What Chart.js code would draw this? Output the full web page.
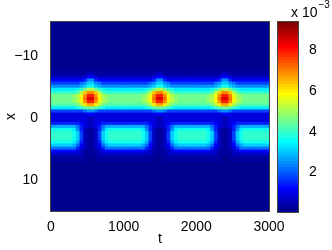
<!DOCTYPE html>
<html>
<head>
<meta charset="utf-8">
<script src="https://cdn.jsdelivr.net/npm/chart.js@4.4.0/dist/chart.umd.min.js"></script>
<style>
  html, body { margin: 0; padding: 0; background: #fff; }
  #wrap { position: relative; width: 332px; height: 250px; }
  #main { position: absolute; left: 0; top: 0; }
  #cbar { position: absolute; left: 270px; top: 0; }
</style>
</head>
<body>
<div id="wrap">
  <canvas id="main" width="332" height="250"></canvas>
  <canvas id="cbar" width="62" height="250"></canvas>
</div>
<script>
// grid of the field: t columns of 50, x rows of 0.5 (top row = -15.5)
const tRange = [0, 3000];
const xRange = [-15.5, 15];
const tTicks = [0, 1000, 2000, 3000];
const xTicks = [-10, 0, 10];
const cbarTicks = [2, 4, 6, 8];
const cRange = [0.05, 9.4];          // colour limits, x 10^-3

// one string per x row, one char per t column (groups of 10 = 500 in t)
// char is base 36, value = char * 0.3  (x 10^-3)
const heatRows = [
  '0000000000 0000000000 0000000000 0000000000 0000000000 0000000000',
  '0000000000 0000000000 0000000000 0000000000 0000000000 0000000000',
  '0000000000 0000000000 0000000000 0000000000 0000000000 0000000000',
  '0000000000 0000000000 0000000000 0000000000 0000000000 0000000000',
  '0000000000 0000000000 0000000000 0000000000 0000000000 0000000000',
  '0000000000 0000000000 0000000000 0000000000 0000000000 0000000000',
  '0000000000 0000000000 0000000000 0000000000 0000000000 0000000000',
  '0000000000 0000000000 0000000000 0000000000 0000000000 0000000000',
  '0000000000 0000000000 0000000000 0000000000 0000000000 0000000000',
  '0000000000 0000000000 0000000000 0000000000 0000000000 0000000000',
  '0000000000 0000000000 0000000000 0000000000 0000000000 0000000000',
  '0000000000 0000000000 0000000000 0000000000 0000000000 0000000000',
  '0000000000 0000000000 0000000000 0000000000 0000000000 0000000000',
  '0000000000 0000000000 0000000000 0000000000 0000000000 0000000000',
  '0000000000 0000000000 0000000000 0000000000 0000000000 0000000000',
  '1111111111 1111111111 1111111111 1111111111 1111111111 1111111111',
  '1111111111 2211111111 1111111112 2111111111 1111111221 1111111111',
  '2222222223 4432222222 2222222234 4322222222 2222223443 2222222222',
  '4444444445 8854444444 4444444458 8544444444 4444445885 4444444444',
  '6666666678 aa87666666 666666678a a876666666 6666678aa8 7666666666',
  '888888889a cca9888888 88888889ac ca98888888 888889acca 9888888888',
  'bbbbbbbcdf hhfdcbbbbb bbbbbbcdfh hfdcbbbbbb bbbbcdfhhf dcbbbbbbbb',
  'dddddddehl nnlheddddd ddddddehln nlhedddddd ddddehlnnl hedddddddd',
  'ffffffghjn qqnjhgffff fffffghjnq qnjhgfffff fffghjnqqn jhgfffffff',
  'ffffffghko ssokhgffff fffffghkos sokhgfffff fffghkosso khgfffffff',
  'ffffffghjn qqnjhgffff fffffghjnq qnjhgfffff fffghjnqqn jhgfffffff',
  'eeeeeeefhk mmkhfeeeee eeeeeefhkm mkhfeeeeee eeeefhkmmk hfeeeeeeee',
  'bbbbbbbcde ffedcbbbbb bbbbbbcdef fedcbbbbbb bbbbcdeffe dcbbbbbbbb',
  '6666666667 8876666666 6666666678 8766666666 6666667887 6666666666',
  '3333333333 4433333333 3333333334 4333333333 3333333443 3333333333',
  '3333333333 2233333333 3333333332 2333333333 3333333223 3333333333',
  '3333333333 2233333333 3333333332 2333333333 3333333223 3333333333',
  '5555555543 2234555555 5555555432 2345555555 5555543223 4555555555',
  '9999999753 2235799999 9999997532 2357999999 9999753223 5799999999',
  'ccccccb852 11258bcccc cccccb8521 1258bccccc cccb852112 58bccccccc',
  'ddddddca62 1126acdddd dddddca621 126acddddd dddca62112 6acddddddd',
  'ddddddca62 1126acdddd dddddca621 126acddddd dddca62112 6acddddddd',
  'ddddddca62 1126acdddd dddddca621 126acddddd dddca62112 6acddddddd',
  'ccccccb952 11259bcccc cccccb9521 1259bccccc cccb952112 59bccccccc',
  'aaaaaa9742 112479aaaa aaaaa97421 12479aaaaa aaa9742112 479aaaaaaa',
  '7777777532 1123577777 7777775321 1235777777 7777532112 3577777777',
  '4444444321 1112344444 4444443211 1123444444 4444321111 2344444444',
  '2222222221 1112222222 2222222211 1122222222 2222221111 2222222222',
  '1111111111 0011111111 1111111110 0111111111 1111111001 1111111111',
  '1111111111 0011111111 1111111110 0111111111 1111111001 1111111111',
  '0000000000 0000000000 0000000000 0000000000 0000000000 0000000000',
  '0000000000 0000000000 0000000000 0000000000 0000000000 0000000000',
  '0000000000 0000000000 0000000000 0000000000 0000000000 0000000000',
  '0000000000 0000000000 0000000000 0000000000 0000000000 0000000000',
  '0000000000 0000000000 0000000000 0000000000 0000000000 0000000000',
  '0000000000 0000000000 0000000000 0000000000 0000000000 0000000000',
  '0000000000 0000000000 0000000000 0000000000 0000000000 0000000000',
  '0000000000 0000000000 0000000000 0000000000 0000000000 0000000000',
  '0000000000 0000000000 0000000000 0000000000 0000000000 0000000000',
  '0000000000 0000000000 0000000000 0000000000 0000000000 0000000000',
  '0000000000 0000000000 0000000000 0000000000 0000000000 0000000000',
  '0000000000 0000000000 0000000000 0000000000 0000000000 0000000000',
  '0000000000 0000000000 0000000000 0000000000 0000000000 0000000000',
  '0000000000 0000000000 0000000000 0000000000 0000000000 0000000000',
  '0000000000 0000000000 0000000000 0000000000 0000000000 0000000000',
  '0000000000 0000000000 0000000000 0000000000 0000000000 0000000000'
];

Chart.defaults.font.family = '"Liberation Sans", Arial, sans-serif';
Chart.defaults.font.size = 14;
Chart.defaults.color = '#000';

// MATLAB jet(64)
function jetColor(k) {
  const u = j => (j < 1 || j > 47) ? 0 : j <= 16 ? j / 16 : j <= 31 ? 1 : (48 - j) / 16;
  const K = k + 1;
  const r = Math.round(255 * u(K - 24));
  const g = Math.round(255 * u(K - 8));
  const b = Math.round(255 * u(K + 8));
  return 'rgb(' + r + ',' + g + ',' + b + ')';
}

function levelOf(v) {
  const k = Math.floor((v - cRange[0]) / (cRange[1] - cRange[0]) * 64);
  return Math.max(0, Math.min(63, k));
}

function minusLabel(v) {
  return v < 0 ? '\u2212' + Math.abs(v) : String(v);
}

const rows = heatRows.map(r => r.replace(/ /g, ''));
const nCols = rows[0].length;
rows.forEach((r, i) => { if (r.length !== nCols) throw new Error('row ' + i + ' has ' + r.length); });
const rowStep = (xRange[1] - xRange[0]) / rows.length;
const colStep = (tRange[1] - tRange[0]) / nCols;
const colLabels = [];
for (let j = 0; j < nCols; j++) colLabels.push(tRange[0] + (j + 0.5) * colStep);

const heatDatasets = rows.map((r, i) => {
  const lo = xRange[0] + i * rowStep;
  const vals = r.split('').map(ch => parseInt(ch, 36) * 0.3);
  return {
    data: vals.map(() => [lo, lo + rowStep]),
    backgroundColor: vals.map(v => jetColor(levelOf(v)))
  };
});

const framePlugin = {
  id: 'frame',
  afterDatasetsDraw(chart) {
    const a = chart.chartArea, ctx = chart.ctx;
    ctx.save();
    ctx.strokeStyle = '#444';
    ctx.lineWidth = 1;
    ctx.strokeRect(Math.round(a.left) - 0.5, Math.round(a.top) - 0.5,
      Math.round(a.right - a.left) + 1, Math.round(a.bottom - a.top) + 1);
    ctx.restore();
  }
};

const barOpts = {
  grouped: false,
  barPercentage: 1,
  categoryPercentage: 1,
  borderWidth: 0,
  inflateAmount: 0.6,
  clip: 0
};

new Chart(document.getElementById('main'), {
  type: 'bar',
  data: { labels: colLabels, datasets: heatDatasets },
  options: {
    responsive: false,
    animation: false,
    devicePixelRatio: 1,
    layout: { padding: { left: 0, right: 63, top: 22, bottom: 0 } },
    datasets: { bar: barOpts },
    plugins: { legend: { display: false }, tooltip: { enabled: false } },
    scales: {
      x: { display: false },
      t: {
        type: 'linear',
        position: 'bottom',
        offset: false,
        min: tRange[0],
        max: tRange[1],
        grid: { display: false, offset: false },
        border: { display: false },
        ticks: { padding: 0, maxRotation: 0, callback: v => String(v) },
        afterBuildTicks: axis => { axis.ticks = tTicks.map(v => ({ value: v })); },
        title: { display: true, text: 't', padding: { top: 0, bottom: 2 } },
        afterFit: axis => { axis.height = 39; }
      },
      y: {
        min: xRange[0],
        max: xRange[1],
        reverse: true,
        grid: { display: false },
        border: { display: false },
        ticks: { padding: 5, callback: v => minusLabel(v) },
        afterBuildTicks: axis => { axis.ticks = xTicks.map(v => ({ value: v })); },
        title: { display: true, text: 'x', padding: { top: 3, bottom: 0 } },
        afterFit: axis => { axis.width = 51; }
      }
    }
  },
  plugins: [framePlugin]
});

// colour bar
const cbarDatasets = [];
for (let k = 0; k < 64; k++) {
  const lo = cRange[0] + k * (cRange[1] - cRange[0]) / 64;
  const hi = cRange[0] + (k + 1) * (cRange[1] - cRange[0]) / 64;
  cbarDatasets.push({ data: [[lo, hi]], backgroundColor: jetColor(k) });
}

const exponentPlugin = {
  id: 'exponent',
  afterDraw(chart) {
    const ctx = chart.ctx;
    ctx.save();
    ctx.fillStyle = '#000';
    ctx.textBaseline = 'middle';
    ctx.textAlign = 'left';
    ctx.font = '14px "Liberation Sans", Arial, sans-serif';
    ctx.fillText('x 10', 21, 13);
    const w = ctx.measureText('x 10').width;
    ctx.font = '10px "Liberation Sans", Arial, sans-serif';
    ctx.fillText('\u22123', 21 + w + 1, 5);
    ctx.restore();
  }
};

new Chart(document.getElementById('cbar'), {
  type: 'bar',
  data: { labels: [''], datasets: cbarDatasets },
  options: {
    responsive: false,
    animation: false,
    devicePixelRatio: 1,
    layout: { padding: { left: 8, right: 0, top: 22, bottom: 38 } },
    datasets: { bar: barOpts },
    plugins: { legend: { display: false }, tooltip: { enabled: false } },
    scales: {
      x: { display: false },
      y: {
        position: 'right',
        min: cRange[0],
        max: cRange[1],
        grid: { display: false },
        border: { display: false },
        ticks: { padding: 3 },
        afterBuildTicks: axis => { axis.ticks = cbarTicks.map(v => ({ value: v })); },
        afterFit: axis => { axis.width = 34; }
      }
    }
  },
  plugins: [framePlugin, exponentPlugin]
});
</script>
</body>
</html>
